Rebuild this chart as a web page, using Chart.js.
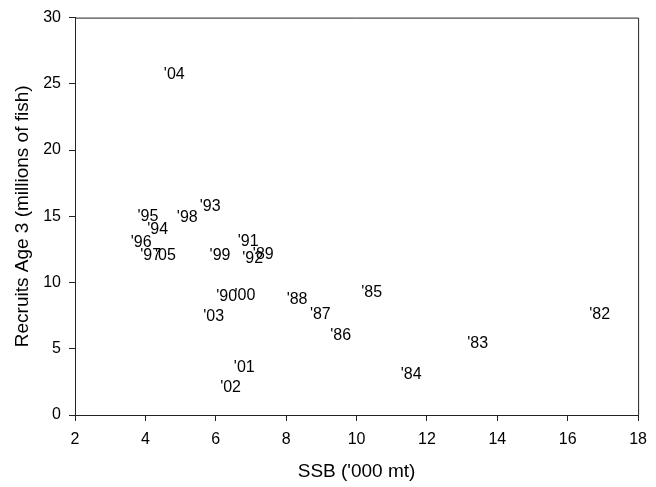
<!DOCTYPE html>
<html>
<head>
<meta charset="utf-8">
<script src="https://cdn.jsdelivr.net/npm/chart.js@4.4.1/dist/chart.umd.min.js"></script>
<style>
  html, body { margin: 0; padding: 0; background: #fff; }
  #wrap { width: 656px; height: 487px; }
</style>
</head>
<body>
<div id="wrap"><canvas id="myChart" width="656" height="487"></canvas></div>
<script>
// year labels, spawning stock biomass ('000 mt) and recruits age 3 (millions)
const years = ["'82", "'83", "'84", "'85", "'86", "'87", "'88", "'89", "'90", "'91", "'92", "'93",
  "'94", "'95", "'96", "'97", "'98", "'99", "'00", "'01", "'02", "'03", "'04", "'05"];
const ssb = [16.91, 13.44, 11.55, 10.43, 9.55, 8.97, 8.31, 7.35, 6.31, 6.92, 7.05, 5.84,
  4.35, 4.07, 3.88, 4.15, 5.19, 6.12, 6.83, 6.81, 6.42, 5.94, 4.82, 4.57];
const recruits = [7.58, 5.38, 3.05, 9.23, 5.98, 7.55, 8.68, 12.13, 8.95, 13.07, 11.83, 15.75,
  14.0, 15.0, 13.05, 12.0, 14.93, 12.0, 9.05, 3.6, 2.1, 7.45, 25.73, 12.0];

const FONT = "'Liberation Sans', Arial, sans-serif";
const axisColor = "#222";

// draws the year text at each point position, plus top/right frame
const yearLabels = {
  id: "yearLabels",
  afterDatasetsDraw(chart) {
    const ctx = chart.ctx;
    const meta = chart.getDatasetMeta(0);
    ctx.save();
    ctx.font = "16px " + FONT;
    ctx.fillStyle = "#000";
    ctx.textAlign = "center";
    ctx.textBaseline = "middle";
    meta.data.forEach((pt, i) => {
      ctx.fillText(years[i], pt.x, pt.y);
    });
    const a = chart.chartArea;
    ctx.strokeStyle = axisColor;
    ctx.lineWidth = 1;
    ctx.beginPath();
    ctx.moveTo(a.left, a.top + 0.5);
    ctx.lineTo(a.right + 0.5, a.top + 0.5);
    ctx.lineTo(a.right + 0.5, a.bottom);
    ctx.stroke();
    ctx.restore();
  }
};

const ctx = document.getElementById("myChart").getContext("2d");
const myChart = new Chart(ctx, {
  type: "scatter",
  data: {
    datasets: [{
      label: "Recruits",
      data: ssb.map((v, i) => ({ x: v, y: recruits[i] })),
      pointRadius: 0,
      pointHoverRadius: 0
    }]
  },
  options: {
    responsive: false,
    animation: false,
    events: [],
    layout: { padding: { top: 15, right: 1, left: 0, bottom: 0 } },
    plugins: { legend: { display: false }, tooltip: { enabled: false } },
    scales: {
      x: {
        type: "linear",
        position: "bottom",
        min: 2,
        max: 18,
        afterFit: (s) => { s.height = 72; },
        ticks: { stepSize: 2, padding: 9, color: "#000", font: { family: FONT, size: 16 }, maxRotation: 0 },
        grid: { drawOnChartArea: false, drawTicks: true, tickLength: 6, tickColor: axisColor },
        border: { display: true, color: axisColor, width: 1 },
        title: { display: true, text: "SSB ('000 mt)", color: "#000", font: { family: FONT, size: 19 }, padding: { top: 0, bottom: 4 } }
      },
      y: {
        min: 0,
        max: 30,
        afterFit: (s) => { s.width = 75; },
        ticks: { stepSize: 5, padding: 8, color: "#000", font: { family: FONT, size: 16 } },
        grid: { drawOnChartArea: false, drawTicks: true, tickLength: 6, tickColor: axisColor },
        border: { display: true, color: axisColor, width: 1 },
        title: { display: true, text: "Recruits Age 3 (millions of fish)", color: "#000", font: { family: FONT, size: 19 }, padding: { top: 11, bottom: 0 } }
      }
    }
  },
  plugins: [yearLabels]
});
</script>
</body>
</html>
